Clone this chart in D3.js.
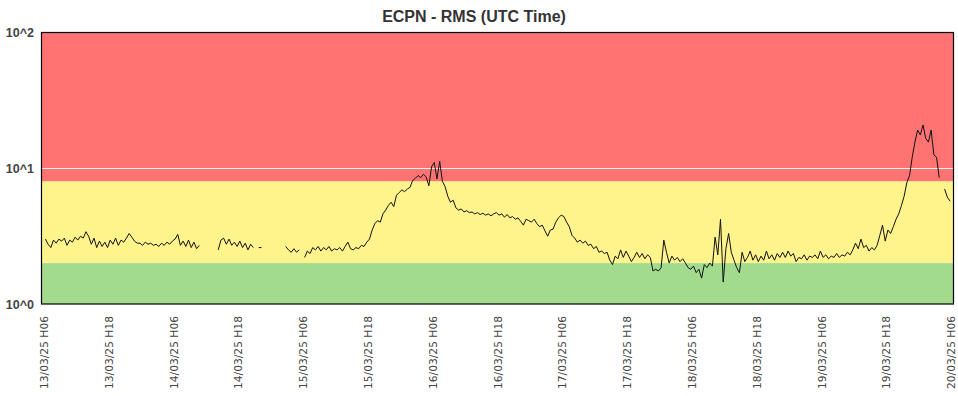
<!DOCTYPE html>
<html>
<head>
<meta charset="utf-8">
<script src="https://cdn.jsdelivr.net/npm/d3@7"></script>
<style>
  html, body { margin: 0; padding: 0; background: #fff; }
  svg { display: block; }
</style>
</head>
<body>
<div id="chart"></div>
<script>
// RMS samples, one every 30 minutes (UTC); null = no data
const rmsDay13 = [ // from 13/03 06:30
  3.0, 2.75, 2.6, 2.95, 2.8, 3.0, 2.9, 3.05, 2.7, 2.95, 2.85, 3.1, 2.95, 3.15, 3.05, 3.4, 3.15, 2.75,
  3.05, 2.6, 2.9, 2.65, 2.85, 2.6, 2.95, 2.75, 3.05, 2.7, 2.95, 2.85, 3.05, 3.3, 3.1, 2.9, 2.8
];
const rmsDay14 = [ // from 14/03 00:00
  2.8, 2.7, 2.85, 2.75, 2.8, 2.7, 2.75, 2.65, 2.8, 2.7, 2.85, 2.75, 2.9, 3.0, 3.25, 2.7, 2.9, 2.65,
  2.95, 2.6, 2.85, 2.55, 2.7, null, null, null, null, null, null, 2.5, 2.95, 3.05, 2.75, 3.0, 2.7, 2.85,
  2.65, 2.9, 2.6, 2.8, 2.5, 2.75, 2.6, null, 2.6, 2.6, null, null
];
const rmsDay15 = [ // from 15/03 00:00
  null, null, null, null, null, null, 2.65, 2.5, 2.4, 2.55, 2.4, 2.5, null, 2.2, 2.45, 2.35, 2.6, 2.5,
  2.65, 2.45, 2.6, 2.5, 2.65, 2.45, 2.55, 2.5, 2.6, 2.45, 2.65, 2.85, 2.55, 2.5, 2.6, 2.55, 2.7, 2.65,
  2.85, 3.0, 3.5, 3.9, 4.1, 4.0, 4.6, 4.9, 5.3, 5.6, 5.2, 6.3
];
const rmsDay16 = [ // from 16/03 00:00
  6.6, 6.9, 6.7, 7.0, 7.2, 8.1, 8.4, 8.8, 8.5, 9.0, 8.6, 7.4, 10.2, 11.0, 8.3, 11.2, 8.0, 7.3,
  6.2, 5.6, 5.8, 5.1, 4.9, 5.0, 4.75, 4.85, 4.7, 4.75, 4.6, 4.7, 4.55, 4.65, 4.5, 4.6, 4.45, 4.6,
  4.7, 4.5, 4.6, 4.35, 4.55, 4.3, 4.4, 4.2, 4.3, 4.05, 3.8, 4.2
];
const rmsDay17 = [ // from 17/03 00:00
  4.1, 4.0, 4.2, 3.9, 3.7, 3.8, 3.45, 3.15, 3.5, 3.55, 4.0, 4.3, 4.5, 4.4, 4.0, 3.7, 3.2, 3.05,
  2.85, 2.95, 2.8, 2.9, 2.7, 2.75, 2.55, 2.65, 2.4, 2.45, 2.35, 2.4, 2.1, 1.95, 2.25, 2.15, 2.5, 2.2,
  2.45, 2.25, 2.05, 2.2, 2.4, 2.2, 2.35, 2.15, 2.3, 2.2, 1.75, 1.8
];
const rmsDay18 = [ // from 18/03 00:00
  1.75, 1.85, 2.95, 2.4, 2.0, 2.25, 2.1, 2.2, 2.05, 2.15, 2.0, 1.85, 1.8, 1.9, 1.7, 1.8, 1.55, 1.95,
  1.85, 2.0, 1.9, 3.1, 2.3, 4.2, 1.45, 2.55, 3.3, 2.4, 2.1, 1.85, 1.7, 2.4, 2.05, 2.2, 2.45, 2.1,
  2.3, 2.05, 2.25, 2.1, 2.45, 2.15, 2.3, 2.1, 2.35, 2.2, 2.4, 2.2
];
const rmsDay19 = [ // from 19/03 00:00
  2.45, 2.25, 2.35, 2.05, 2.2, 2.15, 2.3, 2.1, 2.25, 2.2, 2.3, 2.15, 2.45, 2.2, 2.3, 2.15, 2.25, 2.2,
  2.35, 2.2, 2.3, 2.25, 2.4, 2.3, 2.5, 2.8, 2.55, 3.0, 2.6, 2.7, 2.45, 2.6, 2.5, 2.7, 3.2, 3.8,
  2.9, 3.5, 3.3, 3.7, 4.2, 4.6, 5.3, 6.2, 7.8, 8.8, 12.0, 15.5
];
const rmsDay20 = [ // from 20/03 00:00
  19.0, 17.5, 20.7, 16.5, 15.5, 19.0, 12.5, 12.0, 8.5, null, 7.0, 6.1, 5.7
];
const dayStarts = [
  '2025-03-13T06:30:00Z', '2025-03-14T00:00:00Z', '2025-03-15T00:00:00Z', '2025-03-16T00:00:00Z',
  '2025-03-17T00:00:00Z', '2025-03-18T00:00:00Z', '2025-03-19T00:00:00Z', '2025-03-20T00:00:00Z'
];

// Threshold bands (RMS levels)
const bandLimits = [1, 2, 8, 100];
const bandColors = ['#a2da8e', '#fff38c', '#ff7373'];

// Y axis ticks
const yTicks = [1, 10, 100];
const yTickLabels = ['10^0', '10^1', '10^2'];

// X range and ticks (every 12 h, at H06 and H18)
const xDomain = ['2025-03-13T05:41:00Z', '2025-03-20T06:44:00Z'];
const xTickFirst = '2025-03-13T06:00:00Z';
const xTickLast = '2025-03-20T06:00:00Z';

const config = {
    width: 958,
    height: 396,
    margin: { top: 32, right: 4, bottom: 92, left: 41 }
};

// Build the series
const days = [rmsDay13, rmsDay14, rmsDay15, rmsDay16, rmsDay17, rmsDay18, rmsDay19, rmsDay20];
const points = [];
days.forEach((vals, i) => {
    const start = new Date(dayStarts[i]);
    vals.forEach((v, j) => {
        points.push({ t: d3.utcMinute.offset(start, 30 * j), v: v });
    });
});

const innerW = config.width - config.margin.left - config.margin.right;
const innerH = config.height - config.margin.top - config.margin.bottom;

const x = d3.scaleUtc()
    .domain(xDomain.map(d => new Date(d)))
    .range([0, innerW]);

const y = d3.scaleLog()
    .domain([1, 100])
    .range([innerH, 0]);

const svg = d3.select('#chart').append('svg')
    .attr('width', config.width)
    .attr('height', config.height);

// Title
svg.append('text')
    .attr('x', 474)
    .attr('y', 22)
    .attr('text-anchor', 'middle')
    .attr('font-family', '"Liberation Sans", Arial, sans-serif')
    .attr('font-size', '16px')
    .attr('font-weight', 'bold')
    .attr('fill', '#333')
    .text('ECPN - RMS (UTC Time)');

const g = svg.append('g')
    .attr('transform', `translate(${config.margin.left}, ${config.margin.top})`);

// Bands
const bands = bandColors.map((c, i) => ({ lo: bandLimits[i], hi: bandLimits[i + 1], color: c }));
g.append('g')
    .selectAll('rect')
    .data(bands)
    .enter()
    .append('rect')
    .attr('x', 0)
    .attr('width', innerW)
    .attr('y', d => y(d.hi))
    .attr('height', d => y(d.lo) - y(d.hi))
    .attr('fill', d => d.color);

// Grid line at 10^1
g.append('line')
    .attr('x1', 0)
    .attr('x2', innerW)
    .attr('y1', Math.round(y(10)) + 0.5)
    .attr('y2', Math.round(y(10)) + 0.5)
    .attr('stroke', '#f4f4f4')
    .attr('stroke-width', 1);

// RMS line
const line = d3.line()
    .defined(d => d.v != null)
    .x(d => x(d.t))
    .y(d => y(d.v));

g.append('path')
    .datum(points)
    .attr('d', line)
    .attr('fill', 'none')
    .attr('stroke', '#111')
    .attr('stroke-width', 1)
    .attr('stroke-linejoin', 'round');

// Frame
g.append('rect')
    .attr('x', 0.5)
    .attr('y', 0.5)
    .attr('width', innerW - 1)
    .attr('height', innerH - 0.5)
    .attr('fill', 'none')
    .attr('stroke', '#000')
    .attr('stroke-width', 1.2);

// Y axis labels
const yAxis = d3.axisLeft(y)
    .tickValues(yTicks)
    .tickFormat((d, i) => yTickLabels[i])
    .tickSize(0)
    .tickPadding(7);

g.append('g')
    .call(yAxis)
    .call(a => a.select('.domain').remove())
    .selectAll('text')
    .attr('font-family', '"Liberation Sans", Arial, sans-serif')
    .attr('font-size', '12.5px')
    .attr('font-weight', 'bold')
    .attr('fill', '#444');

// X axis labels (rotated)
const xTicks = d3.utcHour.range(new Date(xTickFirst), d3.utcMinute.offset(new Date(xTickLast), 1), 12);
const fmt = d3.utcFormat('%d/%m/%y H%H');

const xAxis = d3.axisBottom(x)
    .tickValues(xTicks)
    .tickFormat(fmt)
    .tickSize(0)
    .tickPadding(0);

g.append('g')
    .attr('transform', `translate(0, ${innerH})`)
    .call(xAxis)
    .call(a => a.select('.domain').remove())
    .selectAll('text')
    .attr('font-family', '"DejaVu Sans", Verdana, sans-serif')
    .attr('font-size', '10.7px')
    .attr('fill', '#444')
    .attr('text-anchor', 'end')
    .attr('transform', 'rotate(-90)')
    .attr('x', -12)
    .attr('y', 1)
    .attr('dy', '0.35em');
</script>
</body>
</html>
